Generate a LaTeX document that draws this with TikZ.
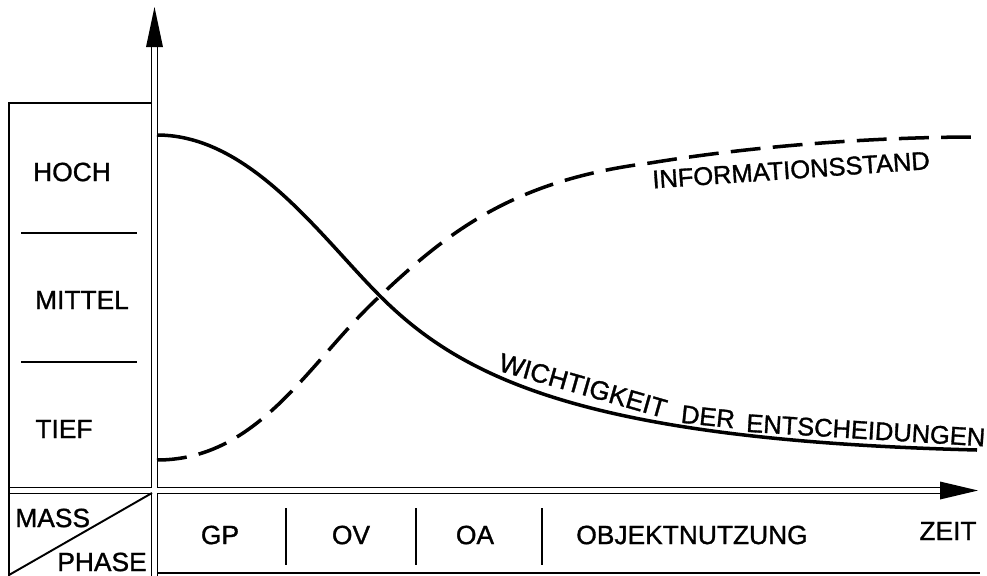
\documentclass[tikz,border=0pt]{standalone}
\usepackage{fontspec}
\setmainfont{Liberation Sans}[FakeBold=1.2]
\usepackage{tikz}
\newcommand{\lblfont}{\fontsize{15}{18}\selectfont}
\newcommand{\infofont}{\fontsize{14.5}{17}\selectfont}

\begin{document}
\begin{tikzpicture}[x=0.02cm, y=-0.02cm,
  lbl/.style={inner sep=0pt, font=\lblfont},
  curvelbl/.style={inner sep=0pt, font=\infofont, anchor=south west},
  axis/.style={line width=1pt, double, double distance=2.4pt},
  frame/.style={line width=1.1pt},
  curve/.style={line width=2pt},
]
\useasboundingbox (0,0) rectangle (987,575);

% Axis points
\coordinate (ytip) at (154.5,7);
\coordinate (ytop) at (154.5,47);
\coordinate (ybot) at (154.5,578);
\coordinate (xleft) at (9,490.5);
\coordinate (xend) at (940,490.5);
\coordinate (xtip) at (978,490.5);

% Axes (double lines, open at the crossing)
\draw[axis] (ybot) -- (ytop) (xleft) -- (xend);
\fill (ytip) -- ([xshift=-0.17cm]ytop) -- ([xshift=0.17cm]ytop) -- cycle;
\fill (xtip) -- ([yshift=0.18cm]xend) -- ([yshift=-0.18cm]xend) -- cycle;

% Scale box on the left
\coordinate (boxtl) at (9,103);
\coordinate (boxtr) at (152,103);
\coordinate (boxbl) at (9,578);
\draw[frame] (boxtr) -- (boxtl) -- (boxbl);
\draw[frame] (21,233) -- (137,233);
\draw[frame] (21,362) -- (137,362);

\node[lbl] (hoch) at (72,172) {HOCH};
\node[lbl] (mittel) at (82,300) {MITTEL};
\node[lbl] (tief) at (64,429) {TIEF};

% Bottom row
\coordinate (cellbl) at (9,575);
\coordinate (celltr) at (152,493);
\draw[frame] (cellbl) -- (celltr);
\node[lbl, anchor=west] (mass) at (15,518) {MASS};
\node[lbl, anchor=west] (phase) at (57,562) {PHASE};
\draw[frame] (157,573) -- (980,573);
\foreach \x in {286,416,542}
  \draw[frame] (\x,508) -- (\x,565);

\node[lbl] (gp) at (220,535) {GP};
\node[lbl] (ov) at (351,535) {OV};
\node[lbl] (oa) at (475,535) {OA};
\node[lbl] (nutzung) at (692,535) {OBJEKTNUTZUNG};
\node[lbl] (zeit) at (948,531) {ZEIT};

% Curves
\coordinate (wstart) at (157,135);
\coordinate (cross) at (380,296);
\coordinate (wsplit) at (497.3,376.3);
\coordinate (wend) at (977,450);
\coordinate (istart) at (157,460);
\coordinate (imid) at (650,163);
\coordinate (iend) at (977,137);

% Wichtigkeit (solid)
\draw[curve] (wstart) .. controls (250,135) and (320,236) .. (cross)
  .. controls (409.6,325.6) and (444.7,352.9) .. (wsplit)
  .. controls (586.7,416) and (726.9,443.7) .. (wend);
\node[curvelbl, font=\lblfont, rotate=-16] (wicht) at (497,371) {WICHTIGKEIT};
\node[curvelbl, rotate=-6] (der) at (680,423) {DER};
\node[curvelbl, anchor=south east, rotate=-3.5] (entsch) at (985,447) {ENTSCHEIDUNGEN};

% Informationsstand (dashed)
\draw[curve, dash pattern=on 17pt off 7pt] (istart) .. controls (260,460) and (310,360) .. (cross)
  .. controls (450,230) and (515,180) .. (imid)
  .. controls (760,145) and (880,137) .. (iend);
\node[inner sep=0pt, font=\infofont, rotate=4] (info) at (791,170) {INFORMATIONSSTAND};
\end{tikzpicture}
\end{document}
